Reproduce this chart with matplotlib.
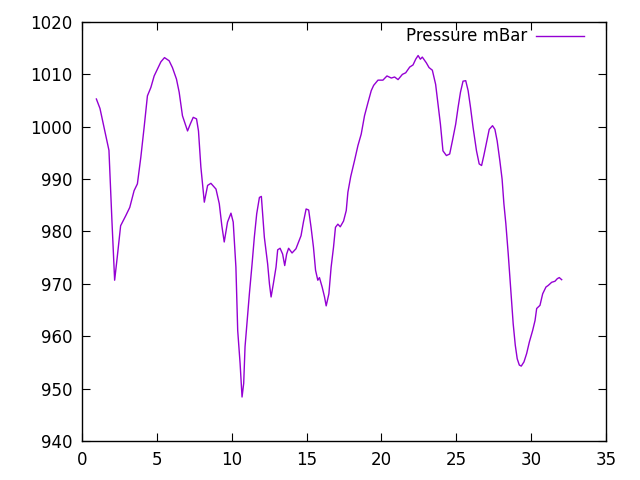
import matplotlib
matplotlib.use("Agg")
import matplotlib.pyplot as plt

# values (time, pressure)
time = [0.96, 1.2, 1.5, 1.8, 2.0, 2.18, 2.35, 2.58, 2.92, 3.19, 3.48, 3.7, 3.93,
        4.15, 4.37, 4.6, 4.82, 5.04, 5.27, 5.51, 5.82, 6.04, 6.31, 6.49, 6.71,
        7.05, 7.23, 7.43, 7.65, 7.78, 7.94, 8.17, 8.39, 8.61, 8.95, 9.17, 9.34,
        9.5, 9.72, 9.95, 10.1, 10.28, 10.4, 10.56, 10.69, 10.8, 10.89, 11.07,
        11.18, 11.36, 11.51, 11.67, 11.85, 11.98, 12.18, 12.4, 12.52, 12.63,
        12.78, 12.96, 13.07, 13.23, 13.4, 13.54, 13.67, 13.8, 14.03, 14.29,
        14.47, 14.63, 14.79, 14.97, 15.14, 15.3, 15.46, 15.6, 15.75, 15.86,
        16.04, 16.2, 16.31, 16.49, 16.64, 16.8, 16.93, 17.09, 17.25, 17.47,
        17.65, 17.76, 17.95, 18.2, 18.43, 18.65, 18.87, 19.1, 19.32, 19.48,
        19.77, 20.1, 20.37, 20.66, 20.88, 21.11, 21.4, 21.62, 21.89, 22.11,
        22.29, 22.45, 22.6, 22.73, 23.0, 23.18, 23.4, 23.62, 23.78, 23.94,
        24.11, 24.34, 24.56, 24.74, 24.96, 25.12, 25.28, 25.45, 25.63, 25.79,
        25.95, 26.12, 26.35, 26.53, 26.69, 26.84, 27.02, 27.2, 27.42, 27.58,
        27.73, 27.91, 28.06, 28.18, 28.31, 28.47, 28.58, 28.69, 28.8, 28.94,
        29.07, 29.21, 29.34, 29.52, 29.7, 29.88, 30.1, 30.26, 30.37, 30.59,
        30.77, 30.99, 31.14, 31.37, 31.59, 31.75, 31.88, 32.04]
pressure = [1005.3, 1003.5, 999.5, 995.5, 982.0, 970.7, 975.0, 981.1, 983.0,
            984.6, 987.8, 989.1, 994.2, 999.9, 1005.9, 1007.5, 1009.7, 1011.0,
            1012.4, 1013.2, 1012.6, 1011.3, 1009.1, 1006.6, 1002.1, 999.2,
            1000.5, 1001.8, 1001.5, 999.2, 992.3, 985.6, 988.8, 989.2, 988.1,
            985.3, 981.1, 978.0, 981.8, 983.5, 981.8, 973.2, 961.1, 954.8,
            948.4, 951.0, 958.0, 964.3, 968.1, 973.8, 978.9, 983.4, 986.5,
            986.7, 978.9, 973.8, 970.0, 967.5, 970.0, 973.2, 976.5, 976.8,
            975.7, 973.5, 975.7, 976.8, 975.9, 976.7, 978.0, 979.2, 981.8,
            984.3, 984.1, 980.8, 977.0, 972.6, 970.7, 971.2, 969.4, 967.5,
            965.8, 968.1, 973.2, 977.0, 980.8, 981.4, 980.9, 982.0, 984.0,
            987.5, 990.5, 993.5, 996.4, 998.6, 1002.1, 1004.6, 1006.9, 1007.9,
            1008.9, 1008.9, 1009.7, 1009.3, 1009.5, 1009.0, 1010.0, 1010.3,
            1011.4, 1011.8, 1012.9, 1013.6, 1012.9, 1013.3, 1012.2, 1011.3,
            1010.8, 1008.1, 1004.3, 1000.5, 995.4, 994.5, 994.8, 997.3, 1000.5,
            1003.7, 1006.6, 1008.7, 1008.8, 1006.9, 1003.7, 999.9, 995.4, 992.9,
            992.6, 994.5, 997.0, 999.5, 1000.2, 999.5, 997.3, 993.5, 990.0,
            985.3, 981.5, 975.7, 971.3, 966.9, 962.4, 958.3, 955.7, 954.5,
            954.3, 955.1, 956.7, 958.9, 961.1, 963.0, 965.3, 965.9, 968.1,
            969.4, 969.7, 970.3, 970.5, 971.0, 971.2, 970.8]

fig = plt.figure(figsize=(6.4, 4.8), dpi=100)
ax = fig.add_axes([82/640, 39/480, 524/640, 419/480])
ax.plot(time, pressure, color='#9400d3', lw=1, label='Pressure mBar')
ax.set_xlim(0, 35)
ax.set_ylim(940, 1020)
ax.set_xticks(range(0, 36, 5))
ax.set_yticks(range(940, 1021, 10))
ax.tick_params(direction='in', top=True, right=True, labelsize=12, length=6, pad=7)
for s in ax.spines.values():
    s.set_linewidth(1)
leg = ax.legend(loc='upper right', bbox_to_anchor=(0.958, 0.987), frameon=False,
                markerfirst=False, fontsize=12, handlelength=2.9,
                handletextpad=0.5, borderaxespad=0, borderpad=0)
fig.savefig('out.png', dpi=100)
